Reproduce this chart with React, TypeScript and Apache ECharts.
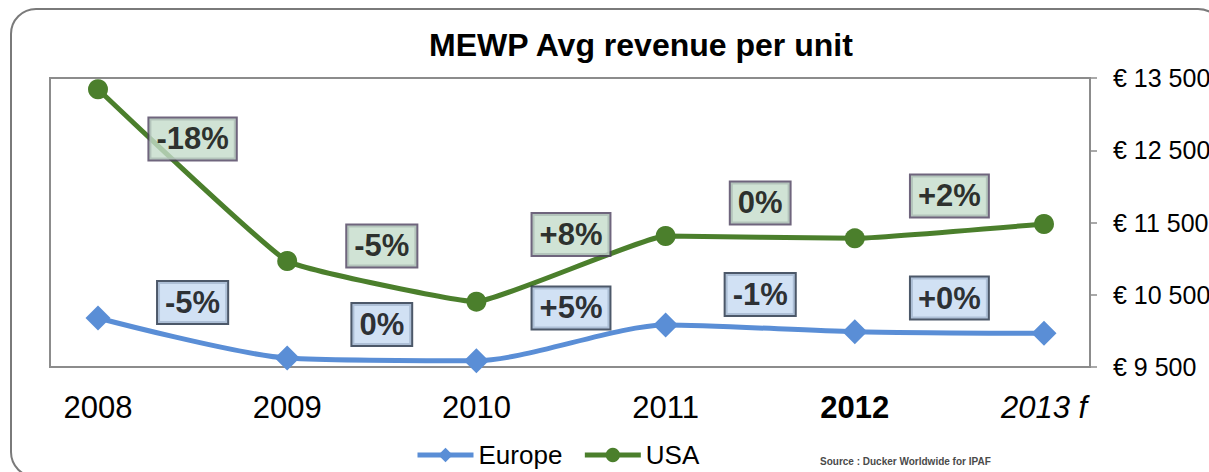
import React, { useEffect, useRef } from "react";
import * as echarts from "echarts";

const categories = ["2008", "2009", "2010", "2011", "2012", "2013 f"];
const europe = [10178, 9625, 9587, 10081, 9989, 9966];
const usa = [13344, 10967, 10404, 11313, 11281, 11479];
const europeChange = ["-5%", "0%", "+5%", "-1%", "+0%"];
const usaChange = ["-18%", "-5%", "+8%", "0%", "+2%"];
// value-axis anchors of the change boxes (between consecutive years)
const europeNoteAt = [10393, 10088, 10317, 10503, 10455];
const usaNoteAt = [12656, 11175, 11334, 11770, 11867];
const yMin = 9500;
const yMax = 13500;
const yStep = 1000;

const FONT = "'Liberation Sans', Arial, sans-serif";

function euro(v: number) {
  return "€ " + String(v).replace(/\B(?=(\d{3})+(?!\d))/g, " ");
}

export default function App() {
  const ref = useRef<HTMLDivElement>(null);
  useEffect(() => {
    if (!ref.current) return;
    const chart = echarts.init(ref.current, null, { renderer: "svg" });
    const noteLabel = (fill: string, border: string) => ({
      show: true,
      position: "inside",
      formatter: (p: any) => p.data[2],
      color: "#000",
      textBorderWidth: 0,
      textBorderColor: "transparent",
      fontFamily: FONT,
      fontWeight: "bold",
      fontSize: 31,
      lineHeight: 31,
      backgroundColor: fill,
      borderColor: border,
      borderWidth: 2,
      padding: [5, 7, 5, 7],
    });
    chart.setOption({
      animation: false,
      title: {
        text: "MEWP Avg revenue per unit",
        left: 429,
        top: 29,
        padding: 0,
        textStyle: { fontFamily: FONT, fontWeight: "bold", fontSize: 32, color: "#000" },
      },
      legend: {
        data: ["Europe", "USA"],
        left: 415,
        top: 442,
        padding: 0,
        itemWidth: 56,
        itemHeight: 18,
        itemGap: 20,
        lineStyle: { width: 5 },
        textStyle: { fontFamily: FONT, fontSize: 26, color: "#000" },
      },
      grid: { left: 98, right: 165, top: 78, bottom: 105, outerBoundsMode: "none", containLabel: false },
      graphic: [
        {
          type: "rect",
          shape: { x: 11, y: 9, width: 1212, height: 468, r: 25 },
          style: { fill: "none", stroke: "#7a7a7a", lineWidth: 2 },
          z: -10,
        },
        {
          type: "rect",
          shape: { x: 50, y: 78, width: 1040, height: 289 },
          style: { fill: "none", stroke: "#8c8c8c", lineWidth: 2 },
          z: -5,
        },
        {
          type: "text",
          x: 820,
          y: 461,
          style: {
            text: "Source : Ducker Worldwide for IPAF",
            fontFamily: FONT,
            fontWeight: "bold",
            fontSize: 10,
            fill: "#4a4a4a",
            verticalAlign: "middle",
          },
        },
      ],
      xAxis: {
        type: "value",
        min: 0,
        max: categories.length - 1,
        interval: 1,
        axisLine: { show: false },
        axisTick: { show: false },
        splitLine: { show: false },
        axisLabel: {
          margin: 25,
          formatter: (v: number) => {
            const i = Math.round(v);
            const c = categories[i] ?? "";
            if (i === 4) return "{b|" + c + "}";
            if (i === 5) return "{i|" + c + "}";
            return "{n|" + c + "}";
          },
          rich: {
            n: { fontFamily: FONT, fontSize: 31, color: "#000" },
            b: { fontFamily: FONT, fontSize: 31, color: "#000", fontWeight: "bold" },
            i: { fontFamily: FONT, fontSize: 31, color: "#000", fontStyle: "italic" },
          },
        },
      },
      yAxis: {
        type: "value",
        position: "right",
        offset: 46,
        min: yMin,
        max: yMax,
        interval: yStep,
        axisLine: { show: true, onZero: false, lineStyle: { color: "#8c8c8c", width: 2 } },
        axisTick: { show: true, length: 7, lineStyle: { color: "#8c8c8c", width: 1.5 } },
        splitLine: { show: false },
        axisLabel: {
          margin: 23,
          formatter: (v: number) => euro(v),
          fontFamily: FONT,
          fontSize: 25,
          color: "#000",
        },
      },
      series: [
        {
          name: "Europe",
          type: "line",
          data: europe.map((v, i) => [i, v]),
          smooth: 0.25,
          symbol: "diamond",
          symbolSize: 25,
          color: "#5a8ed6",
          lineStyle: { width: 5, color: "#5a8ed6" },
          itemStyle: { color: "#5a8ed6" },
          z: 3,
        },
        {
          name: "USA",
          type: "line",
          data: usa.map((v, i) => [i, v]),
          smooth: 0.1,
          symbol: "circle",
          symbolSize: 20,
          color: "#4b7f2c",
          lineStyle: { width: 5, color: "#4b7f2c" },
          itemStyle: { color: "#4b7f2c" },
          z: 3,
        },
        {
          name: "europeNotes",
          type: "scatter",
          data: europeNoteAt.map((v, i) => [i + 0.5, v, europeChange[i]]),
          symbolSize: 0,
          label: noteLabel("#c6d9f1", "#1f2e44"),
          z: 5,
          silent: true,
        },
        {
          name: "usaNotes",
          type: "scatter",
          data: usaNoteAt.map((v, i) => [i + 0.5, v, usaChange[i]]),
          symbolSize: 0,
          label: noteLabel("#c4dccb", "#4b3e5c"),
          z: 5,
          silent: true,
        },
      ],
    });
    return () => chart.dispose();
  }, []);
  return (
    <div
      ref={ref}
      style={{ position: "fixed", left: 0, top: 0, width: 1209, height: 472, background: "#fff" }}
    />
  );
}
